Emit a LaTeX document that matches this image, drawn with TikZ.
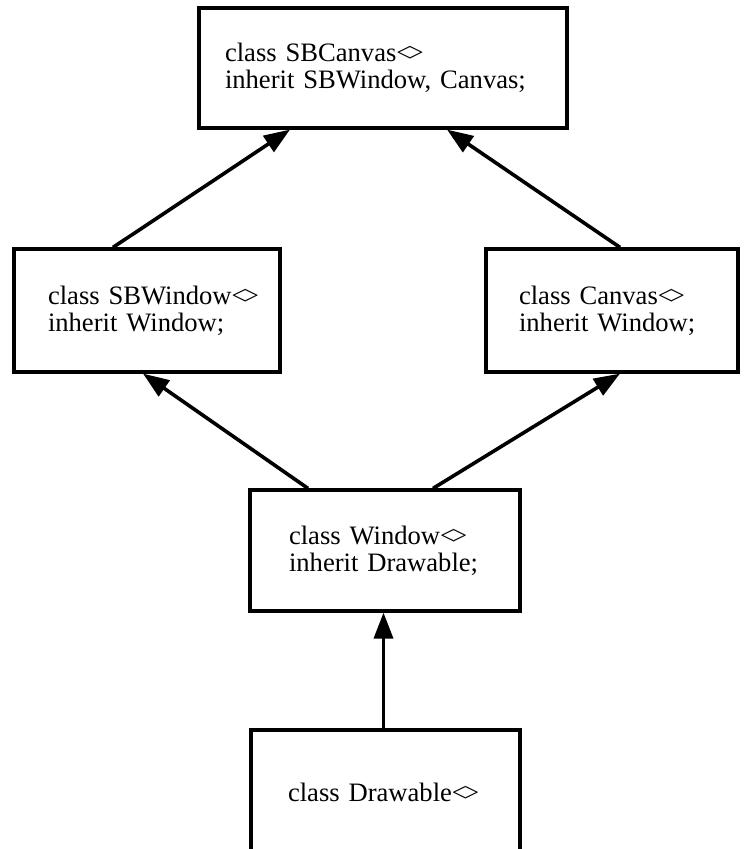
\documentclass[tikz,border=0pt]{standalone}
\usepackage{fontspec}
\setmainfont{Liberation Serif}
\usetikzlibrary{arrows.meta}
\newcommand{\dmd}{<\kern-0.11em>}
\newcommand{\cl}[1]{\mbox{#1}}
\begin{document}
\begin{tikzpicture}[x=0.5pt, y=-0.5pt,
  classbox/.style={draw, line width=1.6pt, rectangle, align=left,
    font=\fontsize{13.3pt}{13.6pt}\selectfont, inner ysep=0pt},
  inh/.style={line width=1.8pt, -{Triangle[length=13pt, width=9.5pt]}}]
\useasboundingbox (0,0) rectangle (743,849);
\node[classbox, minimum width=184pt, minimum height=60pt, text width=158pt, inner xsep=13pt]
  (sbcanvas) at (383,68) {\cl{class SBCanvas\dmd}\\\cl{inherit SBWindow, Canvas;}};
\node[classbox, minimum width=133pt, minimum height=61.5pt, text width=99pt, inner xsep=17pt]
  (sbwindow) at (147,310.5) {\cl{class SBWindow\dmd}\\\cl{inherit Window;}};
\node[classbox, minimum width=126pt, minimum height=61.5pt, text width=93pt, inner xsep=16.5pt]
  (canvas) at (612,310.5) {\cl{class Canvas\dmd}\\\cl{inherit Window;}};
\node[classbox, minimum width=135pt, minimum height=60.5pt, text width=96pt, inner xsep=19.5pt]
  (window) at (385,550.5) {\cl{class Window\dmd}\\\cl{inherit Drawable;}};
\node[classbox, minimum width=134.5pt, minimum height=62pt, text width=97.5pt, inner xsep=18.5pt]
  (drawable) at (385.5,792) {\cl{class Drawable\dmd}};
\draw[inh] ([xshift=-17pt]sbwindow.north) -- ([xshift=-46.5pt]sbcanvas.south);
\draw[inh] ([xshift=4pt]canvas.north) -- ([xshift=32pt]sbcanvas.south);
\draw[inh] ([xshift=-38.5pt]window.north) -- ([xshift=-2pt]sbwindow.south);
\draw[inh] ([xshift=24pt]window.north) -- ([xshift=4pt]canvas.south);
\draw[inh] ([xshift=-1pt]drawable.north) -- ([xshift=-1pt]drawable.north |- window.south);
\end{tikzpicture}
\end{document}
